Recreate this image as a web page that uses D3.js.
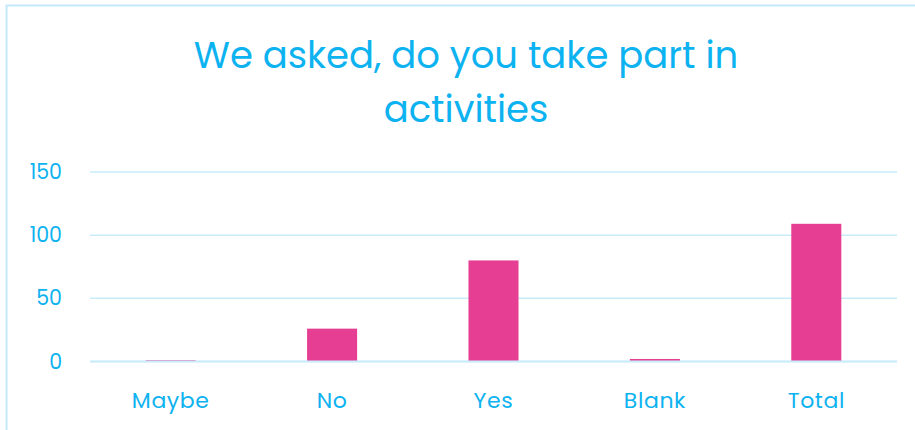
<!DOCTYPE html>
<html>
<head>
<meta charset="utf-8">
<script src="https://cdn.jsdelivr.net/npm/d3@7"></script>
<style>
  html, body { margin: 0; padding: 0; background: #fff; }
  svg { display: block; font-family: Poppins, Inter, sans-serif; }
</style>
</head>
<body>
<div id="chart"></div>
<script>
const CATEGORIES = ['Maybe', 'No', 'Yes', 'Blank', 'Total'];
const VALUES = [1, 26, 80, 2, 109];
const Y_TICKS = [0, 50, 100, 150];
const TITLE_LINES = ['We asked, do you take part in', 'activities'];

const width = 915;
const height = 430;
const margin = { top: 172, right: 18, bottom: 68.5, left: 90 };

const BLUE = '#0db2f0';
const GRID = '#c9ecfb';
const BAR = '#e63e92';

const svg = d3.select('#chart')
  .append('svg')
  .attr('width', width)
  .attr('height', height);

// card border (only top and left edges visible in frame)
svg.append('rect')
  .attr('x', 6.5)
  .attr('y', 5.5)
  .attr('width', width + 20)
  .attr('height', height + 20)
  .attr('fill', '#fff')
  .attr('stroke', '#c4e9fb')
  .attr('stroke-width', 2);

const title = svg.append('text')
  .attr('x', 466)
  .attr('y', 68)
  .attr('text-anchor', 'middle')
  .attr('fill', BLUE)
  .attr('font-size', 37)
  .attr('font-weight', 400);

TITLE_LINES.forEach((line, i) => {
  title.append('tspan')
    .attr('x', 466)
    .attr('dy', i === 0 ? 0 : 54)
    .text(line);
});

const x = d3.scaleBand()
  .domain(CATEGORIES)
  .range([margin.left, width - margin.right])
  .paddingInner(0.69)
  .paddingOuter(0.345);

const y = d3.scaleLinear()
  .domain([0, 150])
  .range([height - margin.bottom, margin.top]);

// gridlines
svg.append('g')
  .selectAll('line')
  .data(Y_TICKS)
  .join('line')
  .attr('x1', margin.left)
  .attr('x2', width - margin.right)
  .attr('y1', d => y(d))
  .attr('y2', d => y(d))
  .attr('stroke', GRID)
  .attr('stroke-width', 1.5);

// y axis labels
const yAxis = svg.append('g')
  .attr('transform', `translate(${margin.left - 28},0)`)
  .call(d3.axisLeft(y).tickValues(Y_TICKS).tickSize(0).tickPadding(0));
yAxis.select('.domain').remove();
yAxis.selectAll('text')
  .attr('fill', BLUE)
  .attr('font-size', 20.5)
  .attr('font-family', 'Poppins, Inter, sans-serif');

// bars
svg.append('g')
  .selectAll('rect')
  .data(CATEGORIES.map((c, i) => ({ c, v: VALUES[i] })))
  .join('rect')
  .attr('x', d => x(d.c))
  .attr('width', x.bandwidth())
  .attr('y', d => y(d.v))
  .attr('height', d => y(0) - y(d.v))
  .attr('fill', BAR);

// baseline
svg.append('line')
  .attr('x1', margin.left)
  .attr('x2', width - margin.right)
  .attr('y1', y(0))
  .attr('y2', y(0))
  .attr('stroke', GRID)
  .attr('stroke-width', 2);

// x axis labels
const xAxis = svg.append('g')
  .attr('transform', `translate(0,${y(0)})`)
  .call(d3.axisBottom(x).tickSize(0).tickPadding(31));
xAxis.select('.domain').remove();
xAxis.selectAll('text')
  .attr('fill', BLUE)
  .attr('font-size', 22)
  .attr('letter-spacing', 0.6)
  .attr('font-family', 'Poppins, Inter, sans-serif');
</script>
</body>
</html>
